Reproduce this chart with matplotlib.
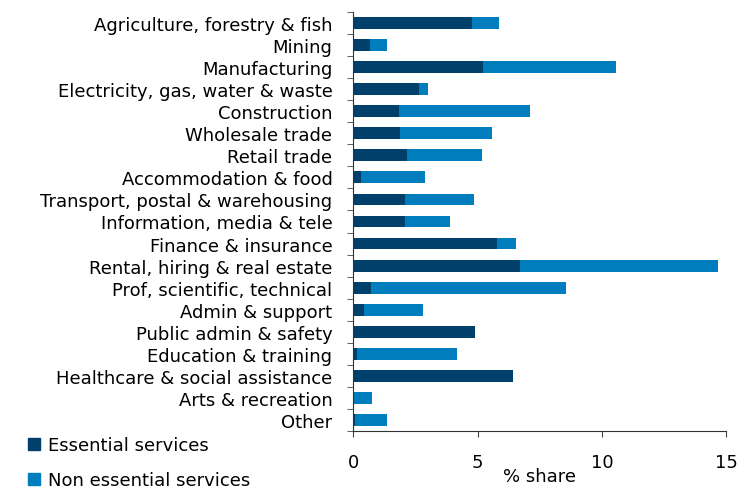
import numpy as np
import matplotlib.pyplot as plt
from matplotlib.lines import Line2D

industries = [
    "Agriculture, forestry & fish", "Mining", "Manufacturing",
    "Electricity, gas, water & waste", "Construction", "Wholesale trade",
    "Retail trade", "Accommodation & food", "Transport, postal & warehousing",
    "Information, media & tele", "Finance & insurance",
    "Rental, hiring & real estate", "Prof, scientific, technical",
    "Admin & support", "Public admin & safety", "Education & training",
    "Healthcare & social assistance", "Arts & recreation", "Other",
]
essential = [4.78, 0.66, 5.22, 2.63, 1.83, 1.87, 2.15, 0.31, 2.10, 2.07,
             5.77, 6.71, 0.73, 0.44, 4.90, 0.17, 6.41, 0.0, 0.09]
non_essential = [1.07, 0.71, 5.34, 0.36, 5.28, 3.72, 3.03, 2.59, 2.76, 1.80,
                 0.79, 7.94, 7.84, 2.37, 0.0, 4.00, 0.0, 0.74, 1.27]

dark = "#00406A"
light = "#007DBD"
fs = 13

fig = plt.figure(figsize=(7.39, 4.89), dpi=100)
ax = fig.add_axes([0.478, 0.116, 0.505, 0.858])

y = np.arange(len(industries))
ax.barh(y, essential, height=0.53, color=dark, label="Essential services")
ax.barh(y, non_essential, left=essential, height=0.53, color=light,
        label="Non essential services")

ax.set_ylim(len(industries) - 0.5, -0.5)
ax.set_xlim(0, 15)
ax.set_xticks([0, 5, 10, 15])
ax.set_yticks(y)
ax.set_yticklabels(industries, fontsize=fs)
# small ticks between categories on the y axis
ax.set_yticks(np.arange(len(industries) + 1) - 0.5, minor=True)
ax.tick_params(axis="y", which="major", length=0, pad=15)
ax.tick_params(axis="y", which="minor", length=4, color="#444444")
ax.tick_params(axis="x", labelsize=fs, length=4, pad=12, color="#444444")
ax.set_xlabel("% share", fontsize=fs, labelpad=-3)

for side in ("top", "right"):
    ax.spines[side].set_visible(False)
for side in ("left", "bottom"):
    ax.spines[side].set_color("#333333")

handles = [
    Line2D([], [], marker="s", linestyle="none", markersize=8.5, color=dark),
    Line2D([], [], marker="s", linestyle="none", markersize=8.5, color=light),
]
fig.legend(handles, ["Essential services", "Non essential services"],
           loc="lower left", bbox_to_anchor=(0.012, -0.036), frameon=False,
           fontsize=fs, handletextpad=0.25, labelspacing=0.95,
           handlelength=1.0)

fig.savefig("out.png", dpi=100)
